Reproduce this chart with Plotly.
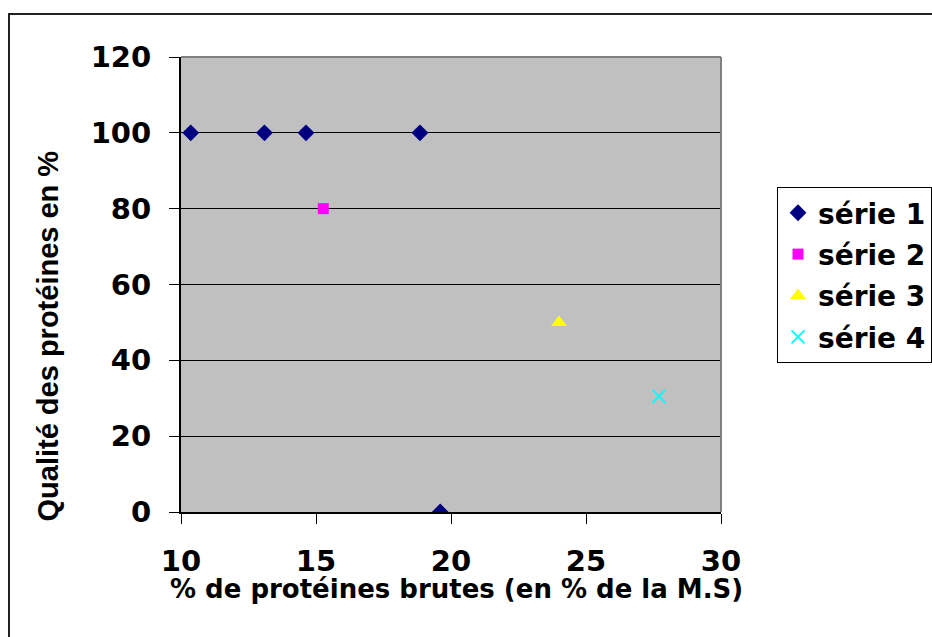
import plotly.graph_objects as go

# Données : % de protéines brutes (x) et qualité des protéines en % (y)
serie1_x = [10.36, 13.09, 14.63, 18.85, 19.6]
serie1_y = [100, 100, 100, 100, 0]
serie2_x = [15.27]
serie2_y = [80]
serie3_x = [24.0]
serie3_y = [50]
serie4_x = [27.7]
serie4_y = [30.5]

x_ticks = [10, 15, 20, 25, 30]
y_ticks = [0, 20, 40, 60, 80, 100, 120]

W, H = 932, 637
L, R, T, B = 181, 211, 57, 125
PW, PH = W - L - R, H - T - B


def px_x(px):
    return (px - L) / PW


def px_y(py):
    return (H - B - py) / PH


BOLD = "DejaVu Sans"

fig = go.Figure()
fig.add_trace(go.Scatter(
    x=serie1_x, y=serie1_y, mode="markers", name="série 1", legendgroup="s1",
    marker=dict(symbol="diamond", size=13, color="#000080"),
))
fig.add_trace(go.Scatter(
    x=serie2_x, y=serie2_y, mode="markers", name="série 2", legendgroup="s2",
    marker=dict(symbol="square", size=11, color="#FF00FF"),
))
fig.add_trace(go.Scatter(
    x=serie3_x, y=serie3_y, mode="markers", name="série 3", legendgroup="s3",
    marker=dict(symbol="triangle-up", size=14, color="#FFFF00"),
))
fig.add_trace(go.Scatter(
    x=serie4_x, y=serie4_y, mode="markers", name="série 4", legendgroup="s4",
    marker=dict(symbol="x-thin-open", size=13, color="#00FFFF",
                line=dict(width=2, color="#00FFFF")),
))

fig.update_layout(
    width=W, height=H,
    margin=dict(l=L, r=R, t=T, b=B, pad=0, autoexpand=False),
    paper_bgcolor="white",
    plot_bgcolor="#C0C0C0",
    showlegend=True,
    legend=dict(
        x=px_x(777), y=px_y(187), xanchor="left", yanchor="top",
        bgcolor="white", bordercolor="black", borderwidth=1,
        font=dict(family=BOLD, size=28, color="black", weight="bold"),
        tracegroupgap=2,
    ),
    xaxis=dict(
        range=[10, 30], tickvals=x_ticks, ticktext=[str(v) for v in x_ticks],
        showgrid=False, zeroline=False,
        showline=True, linecolor="black", linewidth=2,
        ticks="outside", ticklen=10, tickcolor="black", tickwidth=1,
        ticklabelstandoff=12,
        tickfont=dict(family=BOLD, size=29, color="black", weight="bold"),
    ),
    yaxis=dict(
        range=[0, 120], tickvals=y_ticks, ticktext=[str(v) for v in y_ticks],
        showgrid=True, gridcolor="black", gridwidth=1, zeroline=False,
        showline=True, linecolor="black", linewidth=2,
        ticks="outside", ticklen=10, tickcolor="black", tickwidth=1,
        ticklabelstandoff=12,
        tickfont=dict(family=BOLD, size=29, color="black", weight="bold"),
    ),
    annotations=[
        dict(text="% de protéines brutes (en % de la M.S)",
             xref="paper", yref="paper", x=px_x(456.5), y=px_y(589),
             xanchor="center", yanchor="middle", showarrow=False,
             font=dict(family=BOLD, size=26, color="black", weight="bold")),
        dict(text="Qualité des protéines en %",
             xref="paper", yref="paper", x=px_x(47), y=px_y(336.5),
             xanchor="center", yanchor="middle", showarrow=False, textangle=-90,
             font=dict(family="Liberation Sans", size=29, color="black", weight="bold")),
    ],
    shapes=[
        # Cadre gris du haut et de droite de la zone de tracé
        dict(type="line", xref="paper", yref="paper", x0=0, x1=1, y0=1, y1=1,
             line=dict(color="#808080", width=2), layer="above"),
        dict(type="line", xref="paper", yref="paper", x0=1, x1=1, y0=0, y1=1,
             line=dict(color="#808080", width=2), layer="above"),
        # Cadre extérieur du graphique
        dict(type="rect", xref="paper", yref="paper",
             x0=px_x(9), x1=px_x(945), y0=px_y(14), y1=px_y(660),
             line=dict(color="#222222", width=2), fillcolor="rgba(0,0,0,0)",
             layer="below"),
    ],
)

fig.write_html("out.html")
